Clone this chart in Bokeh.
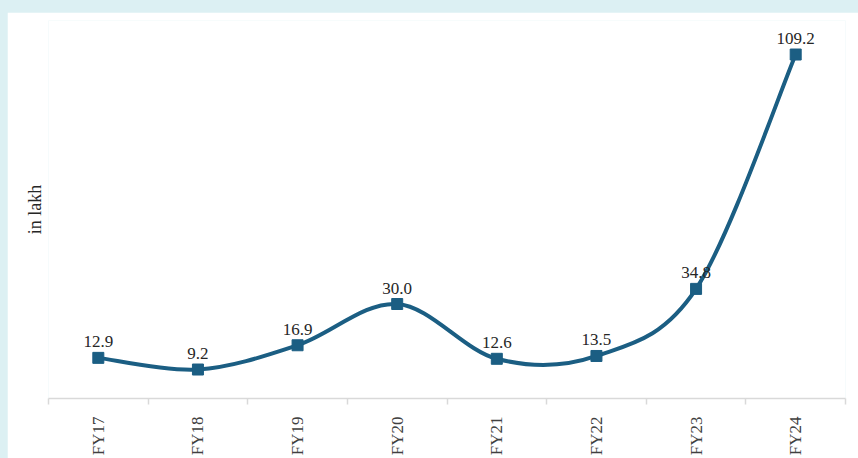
import numpy as np
from bokeh.plotting import figure
from bokeh.models import Range1d, FixedTicker, ColumnDataSource
from bokeh.embed import file_html
from bokeh.resources import INLINE
from bokeh.core.properties import value

categories = ["FY17", "FY18", "FY19", "FY20", "FY21", "FY22", "FY23", "FY24"]
values = [12.9, 9.2, 16.9, 30.0, 12.6, 13.5, 34.8, 109.2]
labels = ["12.9", "9.2", "16.9", "30.0", "12.6", "13.5", "34.8", "109.2"]

LINE = "#1b5e83"
SERIF = "Liberation Serif"

xs = np.arange(len(categories)) + 0.5
ys = np.array(values, dtype=float)

# Smoothed line (Catmull-Rom style bezier segments, like spreadsheet smoothing)
px = np.concatenate([[xs[0]], xs, [xs[-1]]])
py = np.concatenate([[ys[0]], ys, [ys[-1]]])
x0, y0, x1, y1, cx0, cy0, cx1, cy1 = [], [], [], [], [], [], [], []
for i in range(len(xs) - 1):
    a, b = i + 1, i + 2
    x0.append(px[a]); y0.append(py[a]); x1.append(px[b]); y1.append(py[b])
    cx0.append(px[a] + (px[b] - px[a - 1]) / 6.0)
    cy0.append(py[a] + (py[b] - py[a - 1]) / 6.0)
    cx1.append(px[b] - (px[b + 1] - px[a]) / 6.0)
    cy1.append(py[b] - (py[b + 1] - py[a]) / 6.0)

p = figure(width=851, height=446, output_backend="svg", toolbar_location=None,
           x_range=Range1d(0, len(categories)), y_range=Range1d(0, 120),
           min_border_left=41, min_border_right=13, min_border_top=8, min_border_bottom=60)
p.outline_line_color = None
p.grid.visible = False
p.background_fill_color = "white"
p.border_fill_color = "white"

p.bezier(x0=x0, y0=y0, x1=x1, y1=y1, cx0=cx0, cy0=cy0, cx1=cx1, cy1=cy1,
         line_color=LINE, line_width=4, line_cap="round")
src = ColumnDataSource(dict(x=xs, y=ys, t=labels))
p.scatter("x", "y", source=src, marker="square", size=11, color=LINE)
p.text("x", "y", text="t", source=src, text_align="center", text_baseline="alphabetic",
       y_offset=-16, text_font=value(SERIF), text_font_size="17px", text_color="#262626")

ax = p.xaxis[0]
ax.ticker = FixedTicker(ticks=list(xs), minor_ticks=list(range(len(categories) + 1)))
ax.major_label_overrides = {float(x): c for x, c in zip(xs, categories)}
ax.major_label_orientation = np.pi / 2
ax.major_tick_line_color = None
ax.major_tick_out = 0
ax.major_tick_in = 0
ax.minor_tick_in = 0
ax.minor_tick_out = 6
ax.minor_tick_line_color = "#d9d9d9"
ax.minor_tick_line_width = 1.5
ax.axis_line_color = "#d9d9d9"
ax.axis_line_width = 1.5
ax.major_label_text_font = SERIF
ax.major_label_text_font_size = "17px"
ax.major_label_text_color = "#404040"
ax.major_label_standoff = 12

ay = p.yaxis[0]
ay.ticker = FixedTicker(ticks=[])
ay.major_tick_out = 0
ay.major_tick_in = 0
ay.minor_tick_out = 0
ay.axis_line_color = None
ay.axis_label = "in lakh"
ay.axis_label_text_font = SERIF
ay.axis_label_text_font_size = "18px"
ay.axis_label_text_font_style = "normal"
ay.axis_label_text_color = "#262626"
ay.axis_label_standoff = 4

html = file_html(p, INLINE)
css = ("<style>html,body{background:#dcf0f3 !important;margin:0 !important;}"
       "body{padding:12px 0 0 7px !important;box-sizing:border-box !important;}</style>")
html = html.replace("</head>", css + "</head>", 1)
open("out.html", "w").write(html)
